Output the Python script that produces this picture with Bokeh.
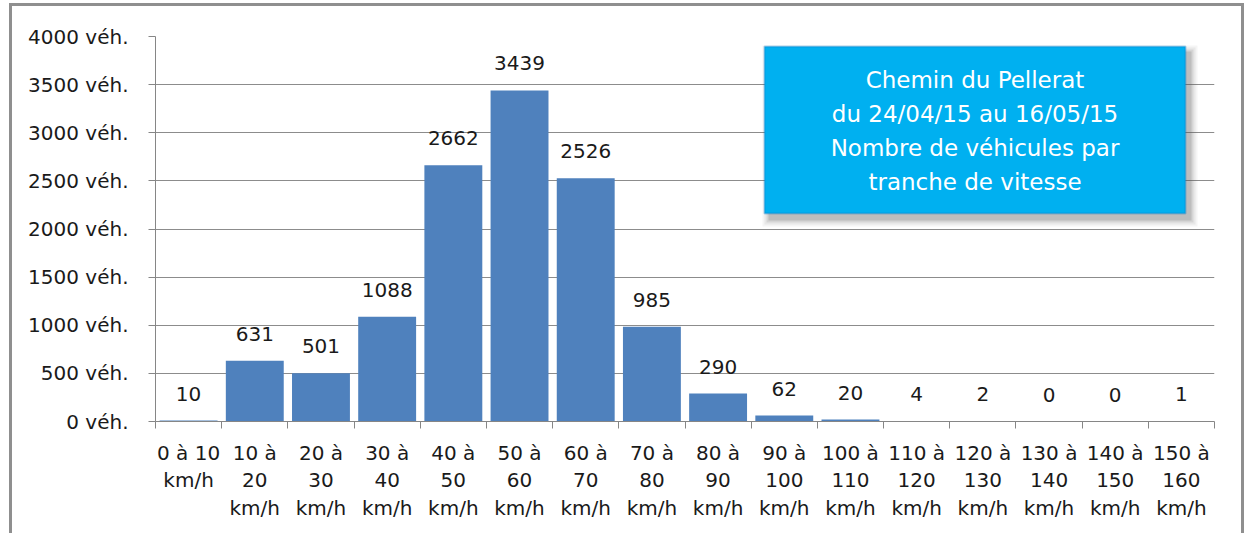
from bokeh.plotting import figure
from bokeh.models import (Range1d, FixedTicker, PrintfTickFormatter, BoxAnnotation,
                          Label, ColumnDataSource)
from bokeh.core.properties import value
from bokeh.embed import file_html
from bokeh.resources import INLINE

# ---------------- data ----------------
categories = [
    "0 à 10\nkm/h", "10 à\n20\nkm/h", "20 à\n30\nkm/h", "30 à\n40\nkm/h",
    "40 à\n50\nkm/h", "50 à\n60\nkm/h", "60 à\n70\nkm/h", "70 à\n80\nkm/h",
    "80 à\n90\nkm/h", "90 à\n100\nkm/h", "100 à\n110\nkm/h", "110 à\n120\nkm/h",
    "120 à\n130\nkm/h", "130 à\n140\nkm/h", "140 à\n150\nkm/h", "150 à\n160\nkm/h",
]
counts = [10, 631, 501, 1088, 2662, 3439, 2526, 985, 290, 62, 20, 4, 2, 0, 0, 1]
y_ticks = [0, 500, 1000, 1500, 2000, 2500, 3000, 3500, 4000]
y_max = 4000
title_lines = ["Chemin du Pellerat", "du 24/04/15 au 16/05/15",
               "Nombre de véhicules par", "tranche de vitesse"]

# ---------------- styling / layout ----------------
FONT = "DejaVu Sans"
BAR = "#4F81BD"
GREY = "#868686"
TXT = "#1a1a1a"
W, H = 1248, 533
FL, FR, FT, FB = 155, 1214, 36, 421   # plot frame edges in pixels

n = len(categories)
centers = [i + 0.5 for i in range(n)]
bounds = list(range(n + 1))


def xd(px):  # pixel -> data (annotation layout only)
    return (px - FL) * n / (FR - FL)


def yd(py):
    return (FB - py) * y_max / (FB - FT)


p = figure(width=W, height=H, x_range=Range1d(0, n), y_range=Range1d(0, y_max),
           output_backend="svg", toolbar_location=None,
           min_border_left=FL, min_border_right=W - FR, min_border_top=FT,
           min_border_bottom=H - FB)
p.outline_line_color = None
p.background_fill_color = "white"
p.border_fill_color = None
# outer grey frame of the original chart (drawn as host background)
p.styles = {
    "background-color": "white",
    "background-image": ("linear-gradient(#8f8f8f,#8f8f8f), "
                         "linear-gradient(#8f8f8f,#8f8f8f), "
                         "linear-gradient(#8f8f8f,#8f8f8f)"),
    "background-size": "3px 100%, 3px 100%, 1235px 3px",
    "background-position": "9px 3px, 1241px 3px, 9px 3px",
    "background-repeat": "no-repeat",
}

src = ColumnDataSource(dict(x=centers, top=counts, label=[str(c) for c in counts]))
p.vbar(x="x", top="top", bottom=0, width=0.875, source=src,
       fill_color=BAR, line_color=None)
p.text(x="x", y="top", text="label", source=src, text_align="center",
       text_baseline="middle", y_offset=-27, text_font=value(FONT),
       text_font_size="20px", text_color=TXT)

# x axis: labels at centres, ticks at boundaries
xa = p.xaxis[0]
xa.ticker = FixedTicker(ticks=centers, minor_ticks=bounds)
xa.major_label_overrides = {c: lab for c, lab in zip(centers, categories)}
xa.major_tick_out = 0
xa.major_tick_in = 0
xa.minor_tick_out = 7
xa.minor_tick_in = 0
xa.minor_tick_line_color = GREY
xa.axis_line_color = GREY
xa.major_label_text_font = FONT
xa.major_label_text_font_size = "20px"
xa.major_label_text_color = TXT
xa.major_label_text_line_height = 1.16
xa.major_label_standoff = 12

# y axis
ya = p.yaxis[0]
ya.ticker = FixedTicker(ticks=y_ticks)
ya.formatter = PrintfTickFormatter(format="%d véh.")
ya.minor_tick_line_color = None
ya.major_tick_out = 7
ya.major_tick_in = 0
ya.major_tick_line_color = GREY
ya.axis_line_color = GREY
ya.major_label_text_font = FONT
ya.major_label_text_font_size = "20px"
ya.major_label_text_color = TXT
ya.major_label_standoff = 20

p.xgrid.visible = False
p.ygrid.ticker = FixedTicker(ticks=y_ticks)
p.ygrid.grid_line_color = "#8c8c8c"
p.ygrid.grid_line_width = 1

# title box (annotation) with soft shadow
BL, BR, BT, BB = 764, 1185, 46, 213
for k, a in [(7, 0.06), (5, 0.08), (3, 0.12), (1, 0.18)]:
    p.add_layout(BoxAnnotation(left=xd(BL + 5 - k), right=xd(BR + 5 + k),
                               top=yd(BT + 6 - k), bottom=yd(BB + 6 + k),
                               fill_color="#555555", fill_alpha=a,
                               line_color=None, level="overlay"))
p.add_layout(BoxAnnotation(left=xd(BL), right=xd(BR), top=yd(BT), bottom=yd(BB),
                           fill_color="#00B0F0", fill_alpha=1.0,
                           line_color="#0B6FC0", line_width=2, level="overlay"))
p.add_layout(Label(x=xd((BL + BR) / 2), y=yd((BT + BB) / 2 + 1), text="\n".join(title_lines),
                   text_align="center", text_baseline="middle", text_font=FONT,
                   text_font_size="23px", text_color="white", text_line_height=1.31,
                   level="overlay"))

open("out.html", "w").write(file_html(p, INLINE))
